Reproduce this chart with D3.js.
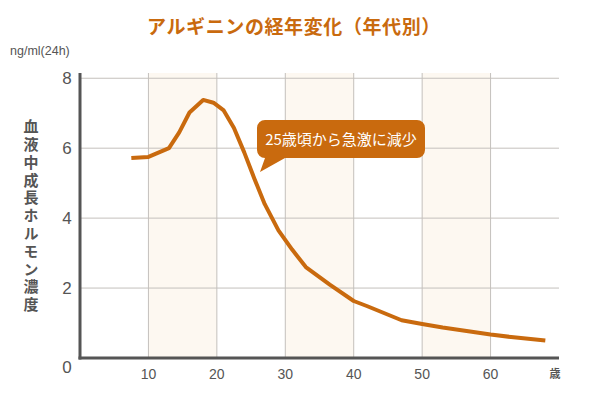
<!DOCTYPE html>
<html>
<head>
<meta charset="utf-8">
<style>
    body { margin: 0; background: #fff; }
    #chart { width: 600px; height: 395px; }
    text { font-family: "Liberation Sans", "Noto Sans CJK JP", sans-serif; }
    .jp { font-family: "Noto Sans CJK JP", sans-serif; }
</style>
</head>
<body>
<div id="chart"></div>
<script src="https://cdn.jsdelivr.net/npm/d3@7"></script>
<script>
    // ages (years) and growth hormone level (ng/ml, 24h)
    const ages = [7.5, 10, 13, 14.5, 16, 18, 19.5, 21, 22.5, 24, 25.5, 27, 29, 31, 33, 36.5, 40, 42, 47, 50, 53, 57, 60, 63, 68];
    const levels = [5.72, 5.75, 6.0, 6.45, 7.02, 7.38, 7.3, 7.08, 6.58, 5.88, 5.12, 4.4, 3.65, 3.1, 2.6, 2.1, 1.63, 1.48, 1.08, 0.97, 0.87, 0.76, 0.67, 0.6, 0.5];
    const xTicks = [10, 20, 30, 40, 50, 60];
    const yTicks = [0, 2, 4, 6, 8];
    const bands = [[10, 20], [30, 40], [50, 60]];

    const width = 600, height = 395;
    const orange = '#c96a0e';
    const axisColor = '#555';

    const svg = d3.select('#chart').append('svg')
        .attr('width', width)
        .attr('height', height);

    const x = d3.scaleLinear().domain([0, 70]).range([80, 559]);
    const y = d3.scaleLinear().domain([0, 8.15]).range([358, 73]);

    // shaded decades
    svg.selectAll('.band')
        .data(bands)
        .enter()
        .append('rect')
        .attr('x', d => x(d[0]))
        .attr('width', d => x(d[1]) - x(d[0]))
        .attr('y', y(8.15))
        .attr('height', y(0) - y(8.15))
        .attr('fill', '#fdf8f1');

    // grid
    svg.selectAll('.hgrid')
        .data(yTicks.filter(d => d > 0))
        .enter()
        .append('line')
        .attr('x1', x(0)).attr('x2', x(70))
        .attr('y1', d => y(d)).attr('y2', d => y(d))
        .attr('stroke', '#c4c0bc').attr('stroke-width', 1);

    svg.selectAll('.vgrid')
        .data(xTicks)
        .enter()
        .append('line')
        .attr('x1', d => x(d)).attr('x2', d => x(d))
        .attr('y1', y(8.15)).attr('y2', y(0))
        .attr('stroke', '#c4c0bc').attr('stroke-width', 1);

    // axes lines
    svg.append('line')
        .attr('x1', x(0)).attr('x2', x(0))
        .attr('y1', y(8.15)).attr('y2', y(0) + 1.5)
        .attr('stroke', axisColor).attr('stroke-width', 3);
    svg.append('line')
        .attr('x1', x(0) - 1.5).attr('x2', x(70))
        .attr('y1', y(0)).attr('y2', y(0))
        .attr('stroke', axisColor).attr('stroke-width', 3);

    // y tick labels
    svg.selectAll('.ylab')
        .data(yTicks)
        .enter()
        .append('text')
        .attr('x', 67)
        .attr('y', d => d === 0 ? y(0) + 15 : y(d) + 6)
        .attr('text-anchor', 'middle')
        .attr('fill', axisColor)
        .style('font-size', '17px')
        .text(d => d);

    // x tick labels
    svg.selectAll('.xlab')
        .data(xTicks)
        .enter()
        .append('text')
        .attr('x', d => x(d))
        .attr('y', 379)
        .attr('text-anchor', 'middle')
        .attr('fill', axisColor)
        .style('font-size', '14px')
        .text(d => d);

    svg.append('text')
        .attr('class', 'jp')
        .attr('x', 555).attr('y', 378)
        .attr('text-anchor', 'middle')
        .attr('fill', axisColor)
        .style('font-size', '11px')
        .style('font-weight', 'bold')
        .text('歳');

    // title
    svg.append('text')
        .attr('class', 'jp')
        .attr('x', 294).attr('y', 34)
        .attr('text-anchor', 'middle')
        .attr('fill', orange)
        .style('font-size', '19px')
        .style('font-weight', 'bold')
        .style('letter-spacing', '0.6px')
        .text('アルギニンの経年変化（年代別）');

    // unit
    svg.append('text')
        .attr('x', 10).attr('y', 55)
        .attr('fill', axisColor)
        .style('font-size', '12.5px')
        .text('ng/ml(24h)');

    // vertical y label
    svg.append('text')
        .attr('class', 'jp')
        .attr('x', 31).attr('y', 119)
        .attr('writing-mode', 'vertical-rl')
        .attr('fill', axisColor)
        .style('font-size', '15px')
        .style('font-weight', 'bold')
        .style('letter-spacing', '2.8px')
        .text('血液中成長ホルモン濃度');

    // line
    const line = d3.line()
        .x((d, i) => x(ages[i]))
        .y(d => y(d));

    svg.append('path')
        .datum(levels)
        .attr('d', line)
        .attr('fill', 'none')
        .attr('stroke', orange)
        .attr('stroke-width', 4)
        .attr('stroke-linejoin', 'round');

    // callout
    const bx = 257, by = 120, bw = 168, bh = 38, r = 8;
    const callout = d3.path();
    callout.moveTo(bx + r, by);
    callout.lineTo(bx + bw - r, by);
    callout.arcTo(bx + bw, by, bx + bw, by + r, r);
    callout.lineTo(bx + bw, by + bh - r);
    callout.arcTo(bx + bw, by + bh, bx + bw - r, by + bh, r);
    callout.lineTo(bx + 28, by + bh);
    callout.lineTo(bx + 3, by + 52);
    callout.lineTo(bx + 8, by + bh);
    callout.arcTo(bx, by + bh, bx, by + bh - r, r);
    callout.lineTo(bx, by + r);
    callout.arcTo(bx, by, bx + r, by, r);
    callout.closePath();
    svg.append('path')
        .attr('d', callout.toString())
        .attr('fill', orange);

    svg.append('text')
        .attr('class', 'jp')
        .attr('x', bx + bw / 2).attr('y', by + 25)
        .attr('text-anchor', 'middle')
        .attr('fill', '#fff')
        .style('font-size', '15px')
        .text('25歳頃から急激に減少');
</script>
</body>
</html>
